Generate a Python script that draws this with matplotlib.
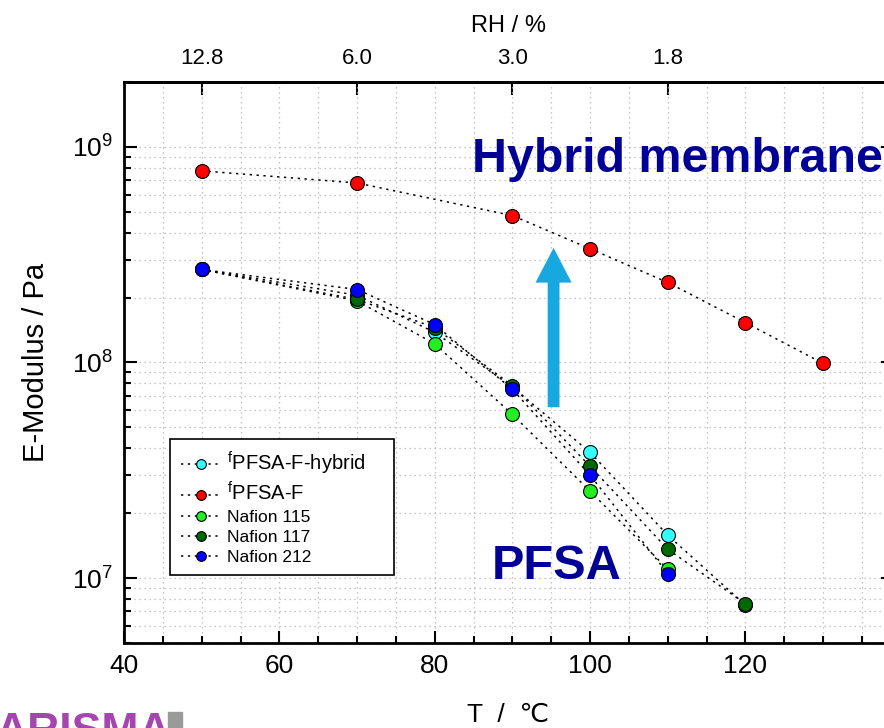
import numpy as np
import matplotlib
matplotlib.use("Agg")
import matplotlib.pyplot as plt
from matplotlib.ticker import MultipleLocator, FixedLocator
from matplotlib.patches import Rectangle

plt.rcParams['font.family'] = ['Liberation Sans', 'DejaVu Sans']
plt.rcParams['mathtext.fontset'] = 'custom'
plt.rcParams['mathtext.rm'] = 'Liberation Sans'
plt.rcParams['mathtext.it'] = 'Liberation Sans:italic'
plt.rcParams['mathtext.bf'] = 'Liberation Sans:bold'

# temperatures / °C and E-modulus / Pa
t_hybrid = [50, 70, 80, 90, 100, 110, 120]
e_hybrid = [2.7e8, 2.05e8, 1.38e8, 7.7e7, 3.83e7, 1.58e7, 7.5e6]

t_pfsa_f = [50, 70, 90, 100, 110, 120, 130]
e_pfsa_f = [7.74e8, 6.8e8, 4.8e8, 3.37e8, 2.35e8, 1.53e8, 9.9e7]

t_n115 = [50, 70, 80, 90, 100, 110]
e_n115 = [2.7e8, 1.93e8, 1.22e8, 5.74e7, 2.53e7, 1.10e7]

t_n117 = [50, 70, 80, 90, 100, 110, 120]
e_n117 = [2.7e8, 1.96e8, 1.45e8, 7.8e7, 3.3e7, 1.36e7, 7.6e6]

t_n212 = [50, 70, 80, 90, 100, 110]
e_n212 = [2.7e8, 2.18e8, 1.5e8, 7.5e7, 3.0e7, 1.05e7]

rh_ticks = [50, 70, 90, 110]
rh_labels = ['12.8', '6.0', '3.0', '1.8']

series = [
    (t_hybrid, e_hybrid, '#33FFFF', r'$^{\rm f}$PFSA-F-hybrid    '),
    (t_pfsa_f, e_pfsa_f, '#FF0000', r'$^{\rm f}$PFSA-F'),
    (t_n115, e_n115, '#22EE22', 'Nafion 115'),
    (t_n117, e_n117, '#006A00', 'Nafion 117'),
    (t_n212, e_n212, '#0000FF', 'Nafion 212'),
]

navy = '#000096'


def main():
    fig = plt.figure(figsize=(8.84, 7.28), dpi=100)
    ax = fig.add_axes([0.1403, 0.1168, 0.8699, 0.7706])

    for t, e, c, lab in series:
        ax.plot(t, e, linestyle=(0, (1.5, 3)), color='black', linewidth=1.1,
                marker='o', markersize=10, markerfacecolor=c,
                markeredgecolor='black', markeredgewidth=0.8, label=lab)

    ax.set_yscale('log')
    ax.set_xlim(40, 139)
    ax.set_ylim(5e6, 2e9)
    ax.xaxis.set_major_locator(MultipleLocator(20))
    ax.xaxis.set_minor_locator(MultipleLocator(5))

    ax.grid(which='both', linestyle=(0, (1, 3)), color='#b4b4b4', linewidth=0.9)
    ax.set_axisbelow(True)

    for s in ax.spines.values():
        s.set_linewidth(2.0)
    ax.tick_params(which='both', direction='in', top=False, right=True, width=1.5)
    ax.tick_params(which='major', length=9, labelsize=19)
    ax.tick_params(which='minor', length=5)
    ax.tick_params(axis='x', pad=8)
    ax.tick_params(axis='y', pad=8)

    ax.set_xlabel('T  /  ℃', fontsize=19, labelpad=18)
    ax.set_ylabel('E-Modulus / Pa', fontsize=21, labelpad=16)

    top = ax.secondary_xaxis('top')
    top.xaxis.set_major_locator(FixedLocator(rh_ticks))
    top.set_xticklabels(rh_labels)
    top.tick_params(direction='in', length=9, width=1.5, labelsize=16, pad=9)
    top.spines['top'].set_linewidth(2.0)
    top.set_xlabel('RH / %', fontsize=17, labelpad=12)

    ax.text(84.8, 7.66e8, 'Hybrid membrane', fontsize=34.8, fontweight='bold',
            color=navy, ha='left', va='baseline')
    ax.text(87.4, 9.9e6, 'PFSA', fontsize=35, fontweight='bold',
            color=navy, ha='left', va='baseline')

    ax.annotate('', xy=(95.3, 3.4e8), xytext=(95.3, 6.2e7),
                arrowprops=dict(facecolor='#17A8E0', edgecolor='none',
                                width=8.5, headwidth=26, headlength=25))

    leg = ax.legend(loc='lower left', bbox_to_anchor=(0.06, 0.121),
                    borderaxespad=0, fancybox=False, frameon=True,
                    edgecolor='black', framealpha=1, fontsize=12.5,
                    handlelength=2.4, handletextpad=0.25, labelspacing=0.28,
                    markerscale=0.7, borderpad=0.6)
    leg.get_frame().set_linewidth(1.2)
    for txt in leg.get_texts()[:2]:
        txt.set_fontsize(14.5)

    # logo remnant at the bottom-left corner
    fig.patches.append(Rectangle((168 / 884, 0), 14 / 884, 16 / 728,
                                 transform=fig.transFigure, color='#9a9a9a'))
    fig.text(-0.005, -0.022, 'ARISMA', fontsize=32, fontweight='bold',
             color='#A445B0', ha='left', va='baseline')

    fig.savefig('out.png', dpi=100)


if __name__ == '__main__':
    main()
